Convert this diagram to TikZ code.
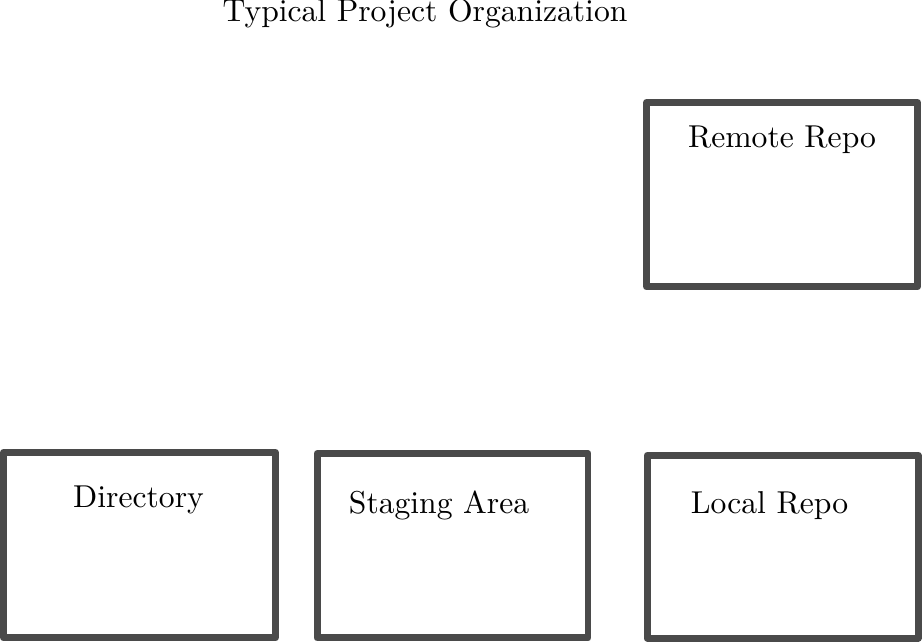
\documentclass[tikz,border=0pt]{standalone}
\usepackage{tikz}

\tikzset{
	area/.style={draw=boxgray, line width=2.2pt, line join=round, rectangle, inner sep=0pt},
	tag/.style={anchor=base}
}
\definecolor{boxgray}{HTML}{4A4A4A}

\begin{document}
\begin{tikzpicture}
	\useasboundingbox (0, 0) rectangle (10.244, 7.144);
	% boxes
	\node[area, minimum width=3.02cm, minimum height=2.06cm] (dir) at (1.55, 1.087) {};
	\node[area, minimum width=3.01cm, minimum height=2.05cm] (stage) at (5.028, 1.081) {};
	\node[area, minimum width=3.01cm, minimum height=2.03cm] (local) at (8.695, 1.07) {};
	\node[area, minimum width=3.01cm, minimum height=2.05cm] (remote) at (8.69, 4.981) {};
	% labels
	\node[tag] (title) at (4.722, 6.9) {Typical Project Organization};
	\node[tag] (dirtext) at (1.539, 1.5) {Directory};
	\node[tag] (stagetext) at (4.878, 1.444) {Staging Area};
	\node[tag] (localtext) at (8.55, 1.444) {Local Repo};
	\node[tag] (remotetext) at (8.689, 5.5) {Remote Repo};
\end{tikzpicture}
\end{document}
